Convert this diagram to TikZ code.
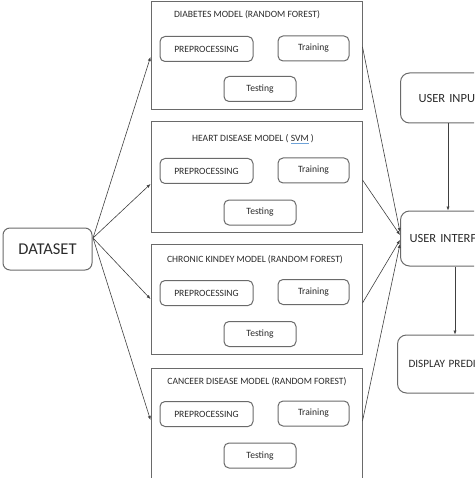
\documentclass[tikz,border=0pt]{standalone}
\usepackage{fontspec}
\setmainfont{Carlito}
\usetikzlibrary{arrows.meta,calc}
\definecolor{edge}{HTML}{6A6A6A}
\definecolor{ink}{HTML}{2A2A2A}
\definecolor{wire}{HTML}{404040}
\definecolor{spell}{HTML}{6FA3D8}
\begin{document}
\begin{tikzpicture}[x=1pt,y=-1pt,
  every node/.style={text=ink, inner sep=0pt},
  model/.style={draw=edge, line width=1pt, minimum width=211pt},
  step box/.style={draw=edge, line width=1pt, rounded corners=5pt, minimum height=25pt, font=\fontsize{9.6}{10}\selectfont},
  ttl/.style={font=\fontsize{9.6}{10}\selectfont},
  side/.style={draw=edge, line width=1pt, rounded corners=9pt, anchor=west, align=left, text width=120pt},
  link/.style={draw=wire, line width=0.6pt, -{Latex[length=4pt,width=3.2pt]}}]
\useasboundingbox (0,0) rectangle (474,478);
\clip (0,0) rectangle (474,478);
% model boxes
\node[model, minimum height=108pt] (m1) at (256.5,56) {};
\node[model, minimum height=110pt] (m2) at (256.5,177) {};
\node[model, minimum height=110pt] (m3) at (256.5,299) {};
\node[model, minimum height=110pt] (m4) at (256.5,423) {};
% titles
\node[ttl] (t1) at (247,15) {DIABETES MODEL (RANDOM FOREST)};
\node[ttl] (t2) at (253,139) {HEART DISEASE MODEL ( {\color{spell}\underline{\color{ink}SVM}} )};
\node[ttl] (t3) at (255,260) {CHRONIC KINDEY MODEL (RANDOM FOREST)};
\node[ttl] (t4) at (257,382) {CANCEER DISEASE MODEL (RANDOM FOREST)};
% steps
\foreach \i/\yp/\yt/\ys in {1/49/48.5/89, 2/171/170.5/212.5, 3/293/292/334, 4/414/413.5/455.5}{
  \node[step box, minimum width=93pt] (p\i) at (206.5,\yp) {PREPROCESSING};
  \node[step box, minimum width=71pt] (r\i) at (313.5,\yt) {Training};
  \node[step box, minimum width=72pt] (s\i) at (260,\ys) {Testing};
}
% dataset
\node[draw=edge, line width=1pt, rounded corners=7pt, minimum width=89pt, minimum height=42pt, font=\fontsize{16.5}{17}\selectfont] (ds) at (47.5,249) {DATASET};
% right column
\node[side, inner xsep=18pt, minimum height=50pt, font=\fontsize{12.5}{13}\selectfont] (in) at (400,98) {USER INPUT};
\node[side, inner xsep=9pt, minimum height=55pt, font=\fontsize{12.5}{13}\selectfont] (ui) at (400,238.5) {USER INTERFACE};
\node[side, inner xsep=11pt, minimum height=58pt, font=\fontsize{11.2}{12}\selectfont] (dp) at (397,364) {DISPLAY PREDICTION};
% connectors
\coordinate (src) at (93,238);
\draw[link] (src) -- (m1.west |- 0,57);
\draw[link] (src) -- (m2.west |- 0,184);
\draw[link] (src) -- (m3.west |- 0,299);
\draw[link] (src) -- (m4.west |- 0,420);
\draw[link] (m1.east |- 0,47) -- (ui.west |- 0,232);
\draw[link] (m2.east |- 0,180) -- (ui.west |- 0,235);
\draw[link] (m3.east |- 0,303) -- (ui.west |- 0,240);
\draw[link] (m4.east |- 0,421) -- (ui.west |- 0,244);
\draw[link] (in.south -| 448,0) -- (ui.north -| 448,0);
\draw[link] (ui.south -| 455,0) -- (dp.north -| 455,0);
\end{tikzpicture}
\end{document}
